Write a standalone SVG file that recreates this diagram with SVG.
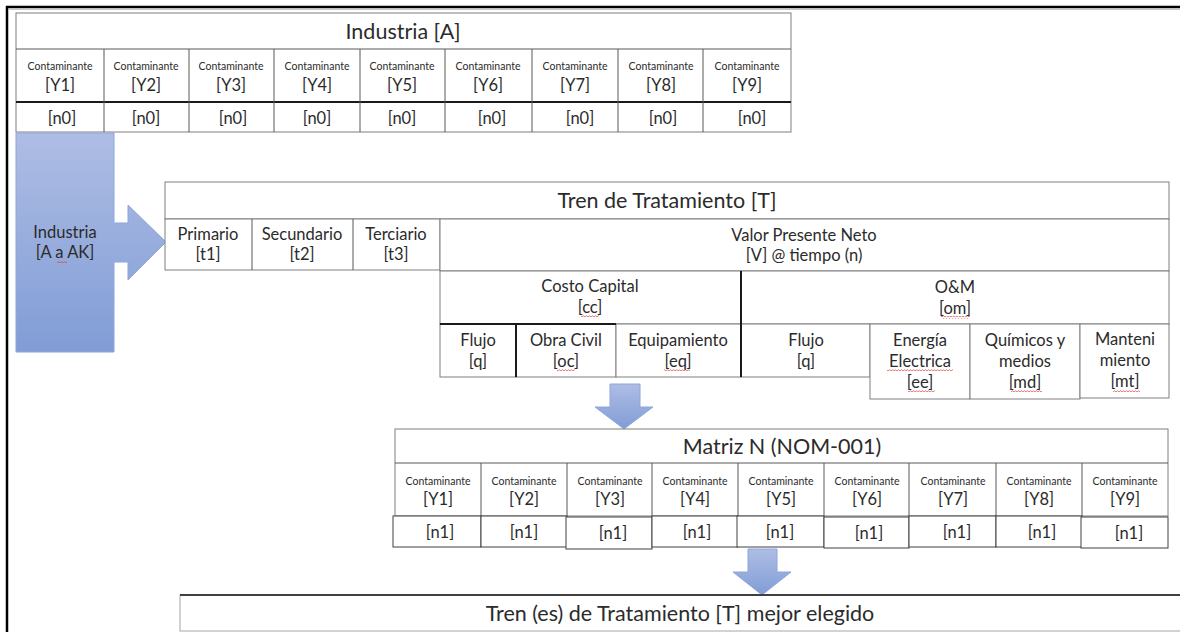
<svg xmlns="http://www.w3.org/2000/svg" width="1180" height="632" viewBox="0 0 1180 632">
<style>
text{font-family:Lato,"Noto Sans","Liberation Sans",sans-serif;fill:#2b2b2b;text-anchor:middle}
.h{font-size:21.5px}
.s{font-size:10.5px}
.m{font-size:16.5px}
.c{fill:#fff;stroke:#7f7f7f;stroke-width:1}
.d{stroke:#1a1a1a;stroke-width:2;fill:none}
.g{stroke:#595959;stroke-width:1;fill:none}
.arrow{fill:url(#blue);stroke:#8ea6dc;stroke-width:1}
.sq{fill:url(#wave)}
</style>
<defs>
<linearGradient id="blue" x1="0" y1="0" x2="0" y2="1">
<stop offset="0" stop-color="#aebde4"/>
<stop offset="1" stop-color="#819dd6"/>
</linearGradient>
<pattern id="wave" width="3" height="3" patternUnits="userSpaceOnUse">
<path d="M0 2.2 L1.5 0.6 L3 2.2" fill="none" stroke="#e03030" stroke-width="0.7"/>
</pattern>
</defs>
<rect width="1180" height="632" fill="#fff"/>
<g id="frame">
<line x1="7" y1="6" x2="7" y2="632" stroke="#000" stroke-width="2.5"/>
<line x1="6" y1="7" x2="1180" y2="7" stroke="#000" stroke-width="2.5"/>
<line x1="8" y1="9.5" x2="1180" y2="9.5" stroke="#c8c8c8" stroke-width="1"/>
</g>
<g id="industria-a">
<rect class="c" x="16" y="13" width="775" height="119"/>
<line class="g" x1="16" y1="49" x2="791" y2="49"/>
<line class="d" x1="16" y1="102" x2="791" y2="102"/>
<path class="g" d="M104 49V132M189 49V132M274 49V132M360 49V132M445 49V132M532 49V132M618 49V132M703 49V132"/>
<text class="h" x="403" y="39">Industria [A]</text>
<text class="s" x="60" y="70">Contaminante</text><text class="m" x="60" y="91">[Y1]</text><text class="m" x="62" y="124">[n0]</text>
<text class="s" x="146" y="70">Contaminante</text><text class="m" x="146" y="91">[Y2]</text><text class="m" x="146" y="124">[n0]</text>
<text class="s" x="231" y="70">Contaminante</text><text class="m" x="231" y="91">[Y3]</text><text class="m" x="233" y="124">[n0]</text>
<text class="s" x="317" y="70">Contaminante</text><text class="m" x="317" y="91">[Y4]</text><text class="m" x="317" y="124">[n0]</text>
<text class="s" x="402" y="70">Contaminante</text><text class="m" x="402" y="91">[Y5]</text><text class="m" x="402" y="124">[n0]</text>
<text class="s" x="488" y="70">Contaminante</text><text class="m" x="488" y="91">[Y6]</text><text class="m" x="492" y="124">[n0]</text>
<text class="s" x="575" y="70">Contaminante</text><text class="m" x="575" y="91">[Y7]</text><text class="m" x="580" y="124">[n0]</text>
<text class="s" x="661" y="70">Contaminante</text><text class="m" x="661" y="91">[Y8]</text><text class="m" x="663" y="124">[n0]</text>
<text class="s" x="747" y="70">Contaminante</text><text class="m" x="747" y="91">[Y9]</text><text class="m" x="752" y="124">[n0]</text>
</g>
<g id="industria-aak">
<path class="arrow" d="M16 133H114V223H128V205L166 242L128 280V262H114V352H16Z"/>
<text class="m" x="65" y="238">Industria</text>
<text class="m" x="65" y="258">[A a AK]</text>
<rect class="sq" x="57" y="260" width="10" height="3"/>
</g>
<g id="tren-tratamiento">
<rect class="c" x="165" y="182" width="1004" height="37"/>
<text class="h" x="667" y="208">Tren de Tratamiento [T]</text>
<rect class="c" x="165" y="219" width="275" height="51"/>
<path class="g" d="M252 219V270M353 219V270"/>
<text class="m" x="208" y="240">Primario</text><text class="m" x="208" y="260">[t1]</text>
<text class="m" x="302" y="240">Secundario</text><text class="m" x="302" y="260">[t2]</text>
<text class="m" x="396" y="240">Terciario</text><text class="m" x="396" y="260">[t3]</text>
</g>
<g id="valor-presente">
<rect class="c" x="440" y="219" width="729" height="52"/>
<text class="m" x="804" y="241">Valor Presente Neto</text>
<text class="m" x="804" y="261">[V] @ tiempo (n)</text>
</g>
<g id="costo-capital">
<rect class="c" x="440" y="271" width="301" height="53"/>
<text class="m" x="590" y="292">Costo Capital</text>
<text class="m" x="590" y="313">[cc]</text>
<rect class="sq" x="581" y="315" width="18" height="3"/>
<rect class="c" x="440" y="324" width="76" height="53"/>
<rect class="c" x="516" y="324" width="100" height="53"/>
<rect class="c" x="616" y="324" width="125" height="53"/>
<line class="d" x1="440" y1="324" x2="616" y2="324" stroke-width="1.5"/>
<line class="d" x1="516" y1="324" x2="516" y2="377" stroke-width="1.3"/>
<text class="m" x="478" y="346">Flujo</text><text class="m" x="478" y="367">[q]</text>
<text class="m" x="566" y="346">Obra Civil</text><text class="m" x="566" y="367">[oc]</text>
<rect class="sq" x="557" y="369" width="18" height="3"/>
<text class="m" x="678" y="346">Equipamiento</text><text class="m" x="678" y="367">[eq]</text>
<rect class="sq" x="664" y="369" width="26" height="3"/>
</g>
<g id="om">
<rect class="c" x="741" y="271" width="428" height="53"/>
<text class="m" x="955" y="293">O&amp;M</text>
<text class="m" x="955" y="314">[om]</text>
<rect class="sq" x="941" y="316" width="29" height="3"/>
<rect class="c" x="741" y="324" width="129" height="53"/>
<rect class="c" x="870" y="324" width="100" height="75"/>
<rect class="c" x="970" y="324" width="110" height="75"/>
<rect class="c" x="1080" y="324" width="89" height="74"/>
<line class="d" x1="741" y1="271" x2="741" y2="377"/>
<text class="m" x="806" y="346">Flujo</text><text class="m" x="806" y="367">[q]</text>
<text class="m" x="920" y="346">Energía</text><text class="m" x="920" y="367">Electrica</text><text class="m" x="920" y="388">[ee]</text>
<rect class="sq" x="887" y="369" width="66" height="3"/>
<rect class="sq" x="908" y="390" width="27" height="3"/>
<text class="m" x="1025" y="346">Químicos y</text><text class="m" x="1025" y="367">medios</text><text class="m" x="1025" y="388">[md]</text>
<rect class="sq" x="1011" y="390" width="31" height="3"/>
<text class="m" x="1125" y="345">Manteni</text><text class="m" x="1125" y="366">miento</text><text class="m" x="1125" y="387">[mt]</text>
<rect class="sq" x="1113" y="389" width="27" height="3"/>
</g>
<g id="connectors">
<path class="arrow" d="M610 384H640V407H653L624 429L595 407H610Z"/>
<path class="arrow" d="M748 549H777V572H791L762 595L733 572H748Z"/>
</g>
<g id="matriz-n">
<rect class="c" x="395" y="429" width="773" height="87"/>
<line class="g" x1="395" y1="463" x2="1168" y2="463"/>
<path class="g" d="M481 463V516M567 463V516M652 463V516M738 463V516M824 463V516M909 463V516M996 463V516M1082 463V516"/>
<text class="h" x="782" y="454">Matriz N (NOM-001)</text>
<g fill="#fff" stroke="#404040" stroke-width="1">
<rect x="393" y="516" width="88" height="31"/>
<rect x="481" y="516" width="86" height="31"/>
<rect x="566" y="517" width="86" height="32"/>
<rect x="652" y="516" width="86" height="31"/>
<rect x="737" y="516" width="87" height="31"/>
<rect x="824" y="517" width="85" height="31"/>
<rect x="909" y="516" width="87" height="31"/>
<rect x="996" y="516" width="86" height="31"/>
<rect x="1081" y="517" width="87" height="31"/>
</g>
<text class="s" x="438" y="485">Contaminante</text><text class="m" x="438" y="505">[Y1]</text><text class="m" x="440" y="538">[n1]</text>
<text class="s" x="524" y="485">Contaminante</text><text class="m" x="524" y="505">[Y2]</text><text class="m" x="524" y="538">[n1]</text>
<text class="s" x="610" y="485">Contaminante</text><text class="m" x="610" y="505">[Y3]</text><text class="m" x="613" y="539">[n1]</text>
<text class="s" x="695" y="485">Contaminante</text><text class="m" x="695" y="505">[Y4]</text><text class="m" x="697" y="538">[n1]</text>
<text class="s" x="781" y="485">Contaminante</text><text class="m" x="781" y="505">[Y5]</text><text class="m" x="780" y="538">[n1]</text>
<text class="s" x="867" y="485">Contaminante</text><text class="m" x="867" y="505">[Y6]</text><text class="m" x="869" y="539">[n1]</text>
<text class="s" x="953" y="485">Contaminante</text><text class="m" x="953" y="505">[Y7]</text><text class="m" x="957" y="538">[n1]</text>
<text class="s" x="1039" y="485">Contaminante</text><text class="m" x="1039" y="505">[Y8]</text><text class="m" x="1042" y="538">[n1]</text>
<text class="s" x="1125" y="485">Contaminante</text><text class="m" x="1125" y="505">[Y9]</text><text class="m" x="1129" y="539">[n1]</text>
</g>
<g id="tren-elegido">
<rect x="180" y="595" width="1010" height="36" fill="#fff" stroke="#a6a6a6" stroke-width="1"/>
<line x1="180" y1="595" x2="1180" y2="595" stroke="#404040" stroke-width="2"/>
<text class="h" x="680" y="621">Tren (es) de Tratamiento [T] mejor elegido</text>
</g>
</svg>
